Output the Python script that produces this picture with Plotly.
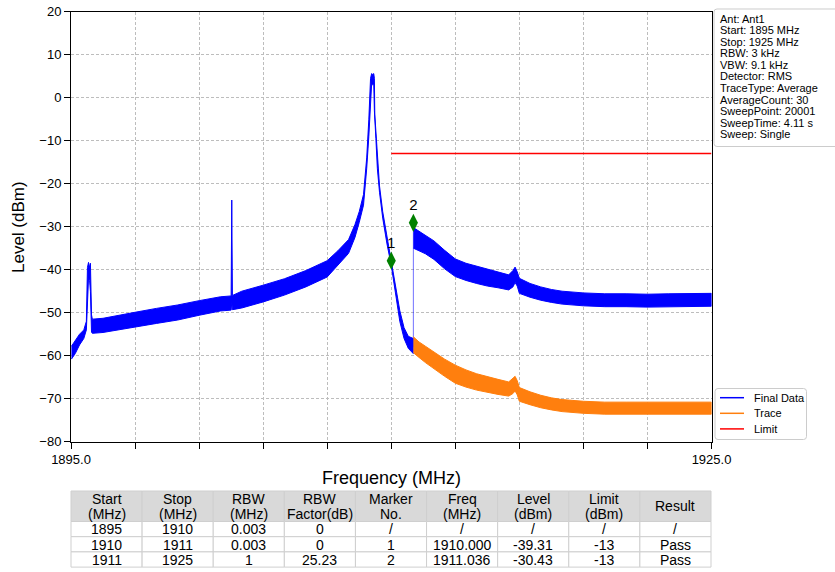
import plotly.graph_objects as go

# ---------------- data ----------------
# Final Data, part below the 1911.036 MHz step: upper / lower envelope of the noisy trace
final_a_freq = [1895.02, 1895.20, 1895.40, 1895.60, 1895.72, 1895.77, 1895.82, 1895.87, 1895.91, 1895.96,
                1896.0, 1896.5, 1897.0, 1898.0, 1899.0, 1900.0, 1901.0, 1902.0, 1902.50, 1902.53, 1902.56,
                1903.0, 1904.0, 1905.0, 1906.0, 1907.0, 1907.5, 1908.0, 1908.3, 1908.5, 1908.7, 1908.85,
                1908.95, 1909.03, 1909.08, 1909.13, 1909.18, 1909.21, 1909.23, 1909.28, 1909.35, 1909.45,
                1909.6, 1909.8, 1910.0, 1910.2, 1910.4, 1910.6, 1910.8, 1911.03]
final_a_upper = [-57.8, -56.5, -55.0, -54.0, -52.0, -39.5, -38.3, -39.5, -38.5, -50.5,
                 -51.5, -51.3, -50.8, -49.9, -49.0, -48.2, -47.2, -46.3, -46.1, -23.8, -46.0,
                 -45.0, -43.6, -42.1, -40.2, -37.9, -35.6, -33.0, -29.5, -26.5, -22.5, -14.0,
                 -5.0, 4.5, 5.6, 5.4, 5.6, 4.5, -4.0, -8.0, -15.0, -20.5,
                 -26.5, -32.5, -37.6, -43.5, -49.5, -53.5, -55.5, -56.0]
final_a_lower = [-60.8, -59.5, -57.5, -56.0, -54.0, -50.0, -42.0, -42.5, -45.0, -54.5,
                 -54.8, -54.6, -54.3, -53.4, -52.5, -51.7, -50.6, -49.6, -49.4, -47.5, -49.3,
                 -48.9, -47.5, -45.9, -44.0, -41.7, -39.0, -36.2, -32.5, -29.0, -25.0, -16.5,
                 -9.0, -3.0, 3.2, 3.0, 3.2, -3.0, -6.0, -9.5, -16.5, -22.0,
                 -28.0, -34.0, -39.0, -45.5, -52.0, -56.0, -58.3, -59.5]

# Final Data, part above the step
final_b_freq = [1911.036, 1911.3, 1911.6, 1912.0, 1912.5, 1913.0, 1913.5, 1914.0, 1914.5, 1915.0,
                1915.5, 1915.7, 1915.8, 1915.9, 1916.0, 1916.5, 1917.0, 1917.5, 1918.0, 1919.0,
                1920.0, 1921.0, 1922.0, 1923.0, 1924.0, 1925.0]
final_b_upper = [-30.2, -31.0, -32.0, -33.3, -35.5, -37.5, -38.5, -39.2, -39.9, -40.5,
                 -41.2, -40.2, -39.4, -40.5, -42.0, -43.2, -44.0, -44.6, -45.0, -45.4,
                 -45.6, -45.6, -45.7, -45.6, -45.6, -45.5]
final_b_lower = [-35.0, -35.6, -36.3, -37.6, -39.8, -41.6, -42.5, -43.2, -43.8, -44.2,
                 -44.7, -44.0, -43.0, -43.8, -45.5, -46.4, -47.1, -47.6, -48.0, -48.4,
                 -48.6, -48.6, -48.7, -48.6, -48.6, -48.5]

# Final Data step between the two parts
step_freq = [1911.036, 1911.036]
step_level = [-58.0, -30.2]

# Trace (orange)
trace_freq = [1911.036, 1911.3, 1911.6, 1912.0, 1912.5, 1913.0, 1913.5, 1914.0, 1914.5, 1915.0,
              1915.5, 1915.7, 1915.8, 1915.9, 1916.0, 1916.5, 1917.0, 1917.5, 1918.0, 1919.0,
              1920.0, 1921.0, 1922.0, 1923.0, 1924.0, 1925.0]
trace_upper = [-55.6, -56.8, -57.8, -59.2, -60.8, -62.2, -63.3, -64.2, -64.9, -65.5,
               -66.1, -65.3, -64.8, -65.8, -67.4, -68.4, -69.2, -69.8, -70.2, -70.6,
               -70.8, -70.8, -70.8, -70.8, -70.8, -70.8]
trace_lower = [-59.3, -60.4, -61.6, -63.1, -64.8, -66.4, -67.3, -68.0, -68.5, -69.0,
               -69.4, -68.8, -68.2, -69.1, -70.6, -71.4, -72.1, -72.6, -73.0, -73.4,
               -73.6, -73.6, -73.6, -73.6, -73.6, -73.6]

# Limit
limit_freq = [1910.0, 1925.0]
limit_level = [-13.0, -13.0]

# Markers (as drawn)
marker_freq = [1910.0, 1911.036]
marker_level = [-37.9, -29.1]
marker_text = ["1", "2"]

# Axis ticks
xtick_vals = [1895, 1898, 1901, 1904, 1907, 1910, 1913, 1916, 1919, 1922, 1925]
xtick_text = ["1895.0", "", "", "", "", "", "", "", "", "", "1925.0"]
ytick_vals = [20, 10, 0, -10, -20, -30, -40, -50, -60, -70, -80]

series_names = ["Final Data", "Trace", "Limit"]

info_lines = ["Ant: Ant1", "Start: 1895 MHz", "Stop: 1925 MHz", "RBW: 3 kHz", "VBW: 9.1 kHz",
              "Detector: RMS", "TraceType: Average", "AverageCount: 30", "SweepPoint: 20001",
              "SweepTime: 4.11 s", "Sweep: Single"]

# Table
table_header = [["Start", "(MHz)"], ["Stop", "(MHz)"], ["RBW", "(MHz)"], ["RBW", "Factor(dB)"],
                ["Marker", "No."], ["Freq", "(MHz)"], ["Level", "(dBm)"], ["Limit", "(dBm)"], ["Result"]]
col_start = ["1895", "1910", "1911"]
col_stop = ["1910", "1911", "1925"]
col_rbw = ["0.003", "0.003", "1"]
col_rbw_factor = ["0", "0", "25.23"]
col_marker = ["/", "1", "2"]
col_freq = ["/", "1910.000", "1911.036"]
col_level = ["/", "-39.31", "-30.43"]
col_limit = ["/", "-13", "-13"]
col_result = ["/", "Pass", "Pass"]
table_columns = [col_start, col_stop, col_rbw, col_rbw_factor, col_marker, col_freq,
                 col_level, col_limit, col_result]

# ---------------- figure ----------------
W, H = 835, 572
FONT = "Liberation Sans, Arial, sans-serif"
NARROW = "Liberation Sans Narrow, Arial Narrow, Liberation Sans, sans-serif"
BLUE, ORANGE, RED, GREEN = "#0000ff", "#ff7f0e", "#ff0000", "#008000"


def px_x(x):
    return x / W


def px_y(y):
    return 1 - y / H


def band(freq, upper, lower, color):
    return go.Scatter(x=list(freq) + list(freq)[::-1], y=list(upper) + list(lower)[::-1],
                      mode="lines", fill="toself", fillcolor=color,
                      line=dict(color=color, width=1), showlegend=False, hoverinfo="skip")


def rounded_rect(x0, y0, x1, y1, r=3):
    def P(x, y):
        return f"{px_x(x):.5f},{px_y(y):.5f}"
    return (f"M {P(x0 + r, y0)} L {P(x1 - r, y0)} Q {P(x1, y0)} {P(x1, y0 + r)} "
            f"L {P(x1, y1 - r)} Q {P(x1, y1)} {P(x1 - r, y1)} L {P(x0 + r, y1)} "
            f"Q {P(x0, y1)} {P(x0, y1 - r)} L {P(x0, y0 + r)} Q {P(x0, y0)} {P(x0 + r, y0)} Z")


fig = go.Figure()
fig.add_trace(band(final_a_freq, final_a_upper, final_a_lower, BLUE))
fig.add_trace(go.Scatter(x=step_freq, y=step_level, mode="lines", line=dict(color=BLUE, width=1),
                         opacity=0.55, showlegend=False, hoverinfo="skip"))
fig.add_trace(band(final_b_freq, final_b_upper, final_b_lower, BLUE))
fig.add_trace(band(trace_freq, trace_upper, trace_lower, ORANGE))
fig.add_trace(go.Scatter(x=limit_freq, y=limit_level, mode="lines", line=dict(color=RED, width=1.5),
                         showlegend=False))
fig.add_trace(go.Scatter(x=marker_freq, y=marker_level, mode="markers+text", text=marker_text,
                         textposition="top center", textfont=dict(size=15, color="black", family=FONT),
                         marker=dict(symbol="diamond-tall", size=13, color=GREEN),
                         showlegend=False))

shapes = []
annotations = []

# info box
shapes.append(dict(type="path", xref="paper", yref="paper", path=rounded_rect(714, 9, 845, 146.5),
                   line=dict(color="#cccccc", width=1), fillcolor="white", layer="above"))
for i, line in enumerate(info_lines):
    annotations.append(dict(text=line, x=px_x(718), y=px_y(18.7 + i * 11.55), xref="paper", yref="paper",
                            xanchor="left", yanchor="middle", showarrow=False,
                            font=dict(family=FONT, size=11, color="black")))

# legend box
shapes.append(dict(type="path", xref="paper", yref="paper", path=rounded_rect(715, 388.5, 806.5, 439.5),
                   line=dict(color="#cccccc", width=1), fillcolor="white", layer="above"))
for i, (name, color) in enumerate(zip(series_names, [BLUE, ORANGE, RED])):
    yy = 397.7 + i * 15.6
    shapes.append(dict(type="line", xref="paper", yref="paper", x0=px_x(720), x1=px_x(744),
                       y0=px_y(yy), y1=px_y(yy), line=dict(color=color, width=1.5), layer="above"))
    annotations.append(dict(text=name, x=px_x(751.5), y=px_y(yy), xref="paper", yref="paper",
                            xanchor="left", yanchor="middle", showarrow=False,
                            font=dict(family=FONT, size=11, color="black")))

# axis titles
annotations.append(dict(text="Frequency (MHz)", x=px_x(391), y=px_y(478), xref="paper", yref="paper",
                        xanchor="center", yanchor="middle", showarrow=False,
                        font=dict(family=FONT, size=18, color="black")))
annotations.append(dict(text="Level (dBm)", x=px_x(18), y=px_y(227), xref="paper", yref="paper",
                        xanchor="center", yanchor="middle", textangle=-90, showarrow=False,
                        font=dict(family=FONT, size=17, color="black")))

# table (drawn cell by cell)
tx0, tx1 = 71.0, 711.0
hy0, hy1 = 491.0, 521.5
row_h = 15.2
ncol = len(table_columns)
cw = (tx1 - tx0) / ncol
grid_col = "#cfcfcf"
TFS = 14
for j in range(ncol):
    cx0 = tx0 + j * cw
    shapes.append(dict(type="rect", xref="paper", yref="paper", x0=px_x(cx0), x1=px_x(cx0 + cw),
                       y0=px_y(hy1), y1=px_y(hy0), fillcolor="#d9d9d9",
                       line=dict(color=grid_col, width=1), layer="above"))
    lines = table_header[j]
    if len(lines) == 2:
        ys = [498.8, 513.8]
    else:
        ys = [506.3]
    for txt, yy in zip(lines, ys):
        annotations.append(dict(text=txt, x=px_x(cx0 + cw / 2), y=px_y(yy), xref="paper", yref="paper",
                                xanchor="center", yanchor="middle", showarrow=False,
                                font=dict(family=NARROW, size=TFS, color="black")))
    for i, val in enumerate(table_columns[j]):
        ry0 = hy1 + i * row_h
        shapes.append(dict(type="rect", xref="paper", yref="paper", x0=px_x(cx0), x1=px_x(cx0 + cw),
                           y0=px_y(ry0 + row_h), y1=px_y(ry0), fillcolor="white",
                           line=dict(color=grid_col, width=1), layer="above"))
        annotations.append(dict(text=val, x=px_x(cx0 + cw / 2), y=px_y(ry0 + row_h / 2 + 0.3),
                                xref="paper", yref="paper", xanchor="center", yanchor="middle",
                                showarrow=False, font=dict(family=NARROW, size=TFS, color="black")))

fig.update_layout(
    width=W, height=H,
    margin=dict(l=0, r=0, t=0, b=0),
    paper_bgcolor="white", plot_bgcolor="white",
    font=dict(family=FONT, size=13, color="black"),
    showlegend=False,
    shapes=shapes,
    annotations=annotations,
    xaxis=dict(domain=[px_x(71), px_x(711.5)], range=[1895, 1925], tickvals=xtick_vals, ticktext=xtick_text,
               ticks="outside", ticklen=6, tickcolor="black", showline=True, linecolor="black",
               linewidth=1, mirror=True, showgrid=True, gridcolor="#bdbdbd", gridwidth=0.8,
               griddash="3px,2px", zeroline=False, automargin=False,
               tickfont=dict(family=FONT, size=13, color="black")),
    yaxis=dict(domain=[px_y(441.7), px_y(11.7)], range=[-80, 20], tickvals=ytick_vals,
               ticks="outside", ticklen=6, tickcolor="black", showline=True, linecolor="black",
               linewidth=1, mirror=True, showgrid=True, gridcolor="#bdbdbd", gridwidth=0.8,
               griddash="3px,2px", zeroline=False, automargin=False,
               tickfont=dict(family=FONT, size=13, color="black")),
)

fig.write_html("out.html", config={"displayModeBar": False},
               post_script="document.body.style.margin='0px';")
